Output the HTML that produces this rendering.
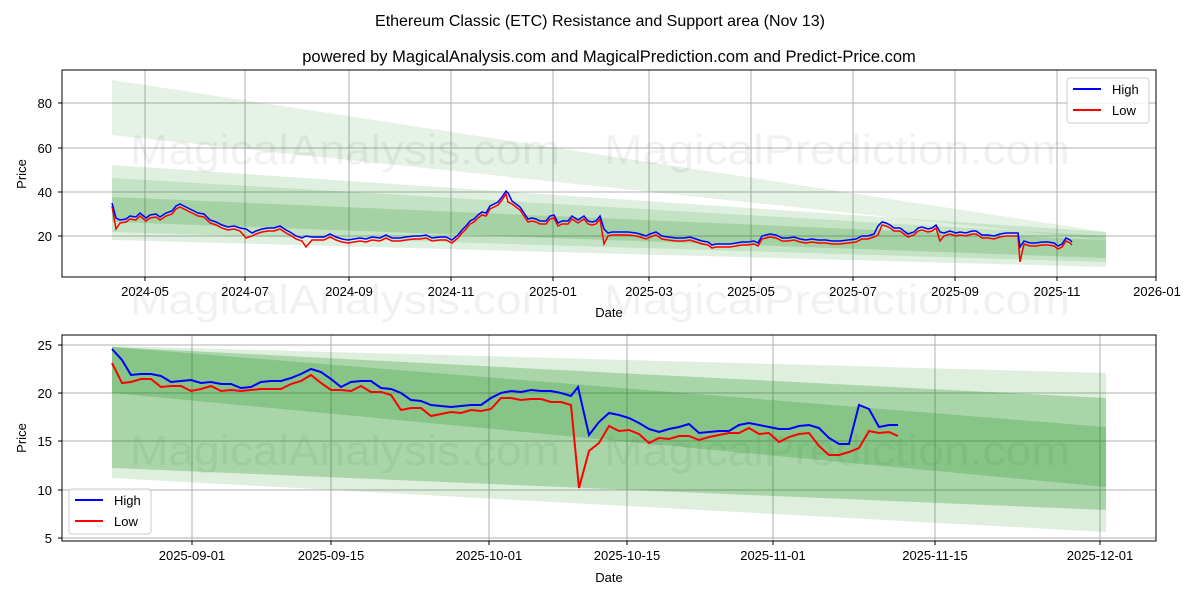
<!DOCTYPE html>
<html><head><meta charset="utf-8"><style>
body{margin:0;background:#fff}
svg{display:block;font-family:"Liberation Sans","DejaVu Sans",sans-serif}
</style></head><body>
<svg id="s" width="1200" height="600" viewBox="0 0 1200 600">
<rect width="1200" height="600" fill="#fff"/>
<text x="600" y="26" font-size="16" text-anchor="middle">Ethereum Classic (ETC) Resistance and Support area (Nov 13)</text>
<text x="609" y="62" font-size="16.5" text-anchor="middle">powered by MagicalAnalysis.com and MagicalPrediction.com and Predict-Price.com</text>

<g stroke="#b0b0b0" stroke-width="1">
<line x1="145" y1="70" x2="145" y2="277"/><line x1="245" y1="70" x2="245" y2="277"/><line x1="349" y1="70" x2="349" y2="277"/><line x1="451" y1="70" x2="451" y2="277"/><line x1="553" y1="70" x2="553" y2="277"/><line x1="649" y1="70" x2="649" y2="277"/><line x1="751" y1="70" x2="751" y2="277"/><line x1="853" y1="70" x2="853" y2="277"/><line x1="955" y1="70" x2="955" y2="277"/><line x1="1057" y1="70" x2="1057" y2="277"/>
<line x1="62" y1="103" x2="1156" y2="103"/><line x1="62" y1="148" x2="1156" y2="148"/><line x1="62" y1="192" x2="1156" y2="192"/><line x1="62" y1="236" x2="1156" y2="236"/>
</g>
<g fill="green">
<polygon points="112,80 1106,232 1106,240 112,135" fill-opacity="0.1"/>
<polygon points="112,165 1106,232 1106,267 112,240" fill-opacity="0.12"/>
<polygon points="112,178 1106,236 1106,262 112,232" fill-opacity="0.12"/>
<polygon points="112,197 1106,240 1106,258 112,222" fill-opacity="0.16"/>
</g>
<g font-size="42" fill="#000" fill-opacity="0.055">
<text x="130" y="164" textLength="430" lengthAdjust="spacingAndGlyphs">MagicalAnalysis.com</text><text x="604" y="164" textLength="466" lengthAdjust="spacingAndGlyphs">MagicalPrediction.com</text>
<text x="130" y="314" textLength="430" lengthAdjust="spacingAndGlyphs">MagicalAnalysis.com</text><text x="604" y="314" textLength="466" lengthAdjust="spacingAndGlyphs">MagicalPrediction.com</text>
<text x="130" y="465" textLength="430" lengthAdjust="spacingAndGlyphs">MagicalAnalysis.com</text><text x="604" y="465" textLength="466" lengthAdjust="spacingAndGlyphs">MagicalPrediction.com</text>
</g>
<polyline id="tl" fill="none" stroke="#f00" stroke-width="1.5"/>
<polyline id="th" fill="none" stroke="#00f" stroke-width="1.5"/>
<rect x="62" y="70" width="1094" height="207" fill="none" stroke="#000"/>
<g font-size="13" text-anchor="end">
<text x="52" y="108">80</text><text x="52" y="153">60</text><text x="52" y="197">40</text><text x="52" y="241">20</text>
</g>
<g stroke="#000"><line x1="58" y1="103" x2="62" y2="103"/><line x1="58" y1="148" x2="62" y2="148"/><line x1="58" y1="192" x2="62" y2="192"/><line x1="58" y1="236" x2="62" y2="236"/>
<line x1="145" y1="277" x2="145" y2="281"/><line x1="245" y1="277" x2="245" y2="281"/><line x1="349" y1="277" x2="349" y2="281"/><line x1="451" y1="277" x2="451" y2="281"/><line x1="553" y1="277" x2="553" y2="281"/><line x1="649" y1="277" x2="649" y2="281"/><line x1="751" y1="277" x2="751" y2="281"/><line x1="853" y1="277" x2="853" y2="281"/><line x1="955" y1="277" x2="955" y2="281"/><line x1="1057" y1="277" x2="1057" y2="281"/><line x1="1156" y1="277" x2="1156" y2="281"/></g>
<g font-size="13" text-anchor="middle">
<text x="145" y="296">2024-05</text><text x="245" y="296">2024-07</text><text x="349" y="296">2024-09</text><text x="451" y="296">2024-11</text><text x="553" y="296">2025-01</text><text x="649" y="296">2025-03</text><text x="751" y="296">2025-05</text><text x="853" y="296">2025-07</text><text x="955" y="296">2025-09</text><text x="1057" y="296">2025-11</text><text x="1157" y="296">2026-01</text>
<text x="609" y="317">Date</text>
</g>
<text transform="translate(26,174) rotate(-90)" font-size="13" text-anchor="middle">Price</text>
<rect x="1067" y="78" width="82" height="45" rx="3" fill="#fff" fill-opacity="0.8" stroke="#ccc"/>
<line x1="1073" y1="89" x2="1101" y2="89" stroke="#00f" stroke-width="2"/><text x="1112" y="94" font-size="13">High</text>
<line x1="1073" y1="110" x2="1101" y2="110" stroke="#f00" stroke-width="2"/><text x="1112" y="115" font-size="13">Low</text>

<g stroke="#b0b0b0" stroke-width="1">
<line x1="192" y1="335" x2="192" y2="541"/><line x1="331" y1="335" x2="331" y2="541"/><line x1="489" y1="335" x2="489" y2="541"/><line x1="627" y1="335" x2="627" y2="541"/><line x1="773" y1="335" x2="773" y2="541"/><line x1="935" y1="335" x2="935" y2="541"/><line x1="1100" y1="335" x2="1100" y2="541"/>
<line x1="62" y1="345" x2="1156" y2="345"/><line x1="62" y1="393" x2="1156" y2="393"/><line x1="62" y1="441" x2="1156" y2="441"/><line x1="62" y1="490" x2="1156" y2="490"/><line x1="62" y1="538" x2="1156" y2="538"/>
</g>
<g fill="green">
<polygon points="112,346 1106,373 1106,532 112,478" fill-opacity="0.13"/>
<polygon points="112,347 1106,398 1106,510 112,468" fill-opacity="0.24"/>
<polygon points="112,347 1106,427 1106,487 112,393" fill-opacity="0.2"/>
</g>
<polyline id="bh" fill="none" stroke="#00f" stroke-width="2" points="112,349 122,360 131,375 141,374 151,374 161,376 171,382 181,381 191,380 201,383 211,382 221,384 231,384 241,388 251,387 261,382 271,381 281,381 291,378 301,374 311,369 321,372 331,379 341,387 351,382 361,381 371,381 381,388 391,389 401,393 411,400 421,401 431,405 441,406 451,407 461,406 471,405 481,405 491,398 501,393 511,391 521,392 531,390 541,391 551,391 561,393 571,396 578,387 589,435 599,422 609,413 619,415 629,418 639,423 649,429 659,432 669,429 679,427 689,424 699,433 709,432 719,431 729,431 739,425 749,423 759,425 769,427 779,429 789,429 799,426 809,425 819,428 829,438 839,444 849,444 859,405 869,409 879,427 889,425 898,425"/>
<polyline id="bl" fill="none" stroke="#f00" stroke-width="2" points="112,363 122,383 131,382 141,379 151,379 161,387 171,386 181,386 191,391 201,389 211,386 221,391 231,390 241,391 251,390 261,389 271,389 281,389 291,384 301,381 311,375 321,383 331,390 341,390 351,391 361,386 371,392 381,392 391,395 401,410 411,408 421,408 431,416 441,414 451,412 461,413 471,410 481,411 491,409 501,398 511,398 521,400 531,399 541,399 551,402 561,402 571,405 579,488 589,451 599,443 609,426 619,431 629,430 639,434 649,443 659,438 669,439 679,436 689,436 699,440 709,437 719,435 729,433 739,433 749,428 759,434 769,433 779,442 789,437 799,434 809,433 819,446 829,455 839,455 849,452 859,448 869,431 879,433 889,432 898,436"/>
<rect x="62" y="335" width="1094" height="206" fill="none" stroke="#000"/>
<g font-size="13" text-anchor="end">
<text x="52" y="350">25</text><text x="52" y="398">20</text><text x="52" y="446">15</text><text x="52" y="495">10</text><text x="52" y="543">5</text>
</g>
<g stroke="#000"><line x1="58" y1="345" x2="62" y2="345"/><line x1="58" y1="393" x2="62" y2="393"/><line x1="58" y1="441" x2="62" y2="441"/><line x1="58" y1="490" x2="62" y2="490"/><line x1="58" y1="538" x2="62" y2="538"/>
<line x1="192" y1="541" x2="192" y2="545"/><line x1="331" y1="541" x2="331" y2="545"/><line x1="489" y1="541" x2="489" y2="545"/><line x1="627" y1="541" x2="627" y2="545"/><line x1="773" y1="541" x2="773" y2="545"/><line x1="935" y1="541" x2="935" y2="545"/><line x1="1100" y1="541" x2="1100" y2="545"/></g>
<g font-size="13" text-anchor="middle">
<text x="192" y="560">2025-09-01</text><text x="331" y="560">2025-09-15</text><text x="489" y="560">2025-10-01</text><text x="627" y="560">2025-10-15</text><text x="773" y="560">2025-11-01</text><text x="935" y="560">2025-11-15</text><text x="1100" y="560">2025-12-01</text>
<text x="609" y="582">Date</text>
</g>
<text transform="translate(26,438) rotate(-90)" font-size="13" text-anchor="middle">Price</text>
<rect x="69" y="489" width="82" height="45" rx="3" fill="#fff" fill-opacity="0.8" stroke="#ccc"/>
<line x1="75" y1="500" x2="103" y2="500" stroke="#00f" stroke-width="2"/><text x="114" y="505" font-size="13">High</text>
<line x1="75" y1="521" x2="103" y2="521" stroke="#f00" stroke-width="2"/><text x="114" y="526" font-size="13">Low</text>
</svg>
<script>
var h=[112,203,116,218,120,220,126,219,130,216,136,217,140,213,146,218,150,215,156,214,160,217,166,213,172,211,176,206,180,204,186,207,192,210,198,213,204,214,210,220,216,222,222,225,228,227,234,226,240,228,246,229,252,233,256,231,262,229,268,228,274,228,280,226,286,230,290,232,296,236,302,238,306,236,312,237,318,237,324,237,330,234,336,237,342,239,348,240,354,239,360,238,366,239,372,237,380,238,386,235,392,238,400,238,406,237,414,236,420,236,426,235,432,238,440,237,446,237,452,240,458,235,462,230,466,226,470,221,474,219,478,215,482,212,486,213,490,206,494,204,498,202,502,197,506,191,508,193,512,201,516,204,520,207,524,213,528,219,532,218,536,219,540,221,546,221,550,216,554,215,558,223,562,221,568,221,572,216,578,220,584,216,588,221,592,222,596,221,600,216,604,229,608,233,612,232,620,232,628,232,636,233,640,234,646,236,650,234,656,232,662,236,668,237,676,238,684,238,690,237,696,239,702,241,708,242,712,245,716,244,722,244,730,244,736,243,742,242,748,242,754,241,758,243,762,236,770,234,776,235,782,238,788,238,794,237,800,239,806,240,812,239,818,240,826,240,832,241,840,241,848,240,856,239,862,236,868,236,874,234,878,226,882,222,886,223,890,225,894,228,900,228,904,231,908,234,914,232,918,228,922,227,928,229,932,228,936,225,940,232,944,233,950,231,956,233,960,232,966,233,972,231,976,231,982,235,988,235,994,236,1000,234,1006,233,1014,233,1018,233,1020,247,1024,241,1030,243,1036,243,1042,242,1048,242,1054,243,1058,246,1062,244,1066,238,1070,240,1072,242];
var sp={116:8,604:12,306:8,246:6,1020:12,508:6,878:6,940:6};
var a=[],b=[];
for(var i=0;i<h.length;i+=2){var x=h[i],y=h[i+1];a.push(x+','+y);b.push(x+','+(y+3+(sp[x]||0)));}
document.getElementById('th').setAttribute('points',a.join(' '));
document.getElementById('tl').setAttribute('points',b.join(' '));
</script>
</body></html>
